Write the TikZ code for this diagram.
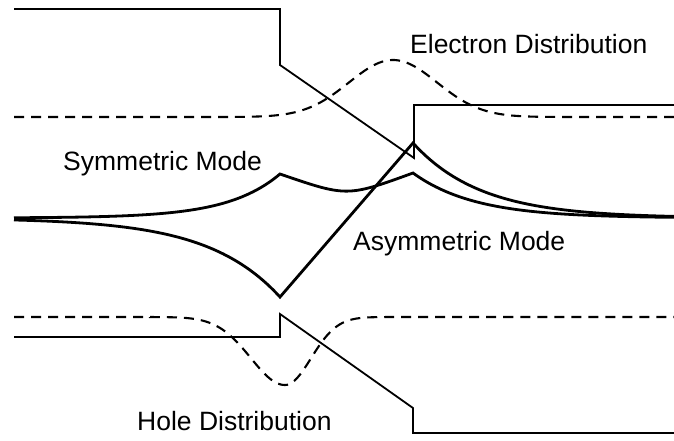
\documentclass[tikz,border=0pt]{standalone}
\usepackage{fontspec}
\setmainfont{Liberation Sans}
\begin{document}
\begin{tikzpicture}[x=1pt,y=-1pt,
  band/.style={line width=1.8pt,line join=miter},
  density/.style={line width=2.1pt,dash pattern=on 10pt off 7pt},
  mode/.style={line width=2.8pt,line join=miter},
  label/.style={anchor=base west,inner sep=0pt,font=\fontsize{26.5}{30}\selectfont}]
\useasboundingbox (0,0) rectangle (674,440);

% conduction band edge
\draw[band] (14,9) -- (280,9) -- (280,65) -- (414,158) -- (414,105) -- (674,105);
% valence band edge
\draw[band] (14,337) -- (280,337) -- (280,314) -- (413,408) -- (413,433) -- (674,433);

% electron density
\draw[density] (14,117) -- (230,117)
  -- plot[domain=230:600,samples=120] (\x,{117-57*exp(-0.5*((\x-393)/44)^2)})
  -- (674,117);
% hole density
\draw[density] (14,317) -- (150,317)
  -- plot[domain=150:285,samples=70] (\x,{317+68*exp(-0.5*((\x-285)/34)^2)})
  -- plot[domain=285:420,samples=70] (\x,{317+68*exp(-0.5*((\x-285)/26)^2)})
  -- (674,317);

% symmetric mode
\draw[mode] plot[domain=14:280,samples=80] (\x,{218-44*exp((\x-280)/52)})
  .. controls (347,197) .. (413,173)
  -- plot[domain=413:674,samples=80] (\x,{218-45*exp(-(\x-413)/62)});
% asymmetric mode
\draw[mode] plot[domain=14:280,samples=80] (\x,{218+79*exp((\x-280)/72)})
  -- (413,143)
  -- plot[domain=413:674,samples=80] (\x,{218-75*exp(-(\x-413)/68)});

% labels
\node[label] (electron) at (410,53) {Electron Distribution};
\node[label] (symmetric) at (63,170) {Symmetric Mode};
\node[label] (asymmetric) at (353,250) {Asymmetric Mode};
\node[label] (hole) at (137,430) {Hole Distribution};
\end{tikzpicture}
\end{document}
